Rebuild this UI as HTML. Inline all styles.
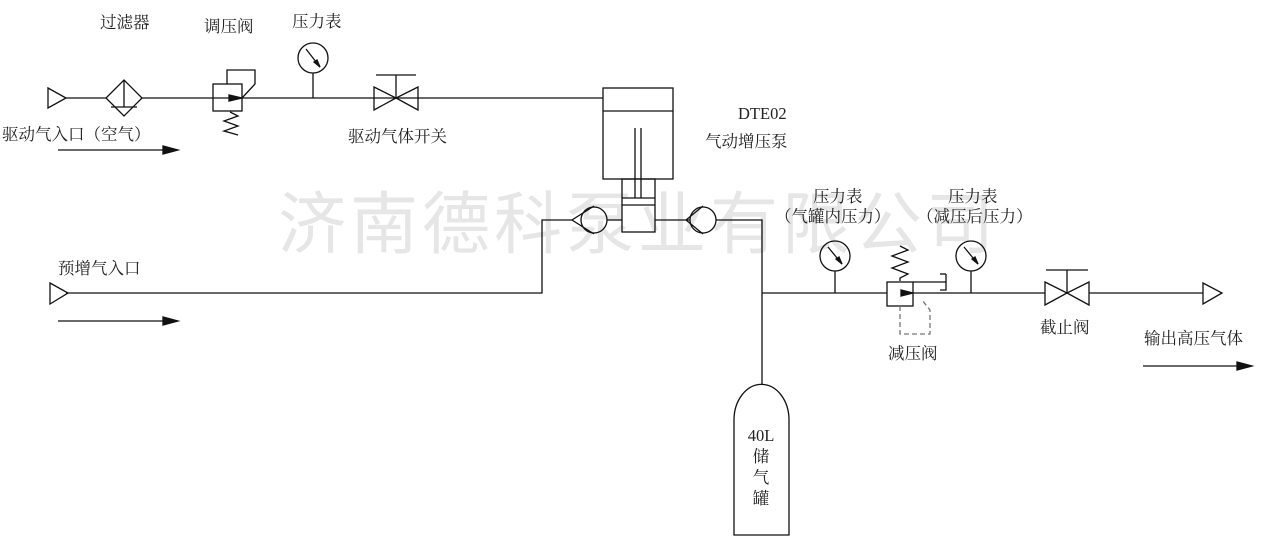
<!DOCTYPE html>
<html><head><meta charset="utf-8"><style>
body{margin:0;background:#fff;}
svg{display:block;font-family:"Liberation Serif","Noto Serif CJK SC",serif;}
text{font-size:16.5px;fill:#222;}
</style></head><body>
<svg width="1268" height="543" viewBox="0 0 1268 543" xmlns="http://www.w3.org/2000/svg">
<text x="638" y="248" text-anchor="middle" style="font-size:68px;fill:#e6e6e6;font-family:'Noto Sans CJK SC',sans-serif;letter-spacing:4px">济南德科泵业有限公司</text>
<g fill="none" stroke="#111" stroke-width="1.3">
<polygon points="48,88 66,98 48,108"/>
<line x1="66" y1="98" x2="106" y2="98"/>
<polygon points="124,80 142,98 124,116 106,98"/>
<line x1="124" y1="80" x2="124" y2="107"/><line x1="111" y1="107" x2="137" y2="107"/>
<line x1="142" y1="98" x2="603" y2="98"/>
<rect x="213" y="84" width="29" height="27"/>
<polyline points="227,84 227,70 255,70 255,84 242,98"/>
<polyline points="230,112 238,116 224,121 238,126 224,131 238,135"/>
<circle cx="313" cy="58" r="15"/><line x1="313" y1="73" x2="313" y2="98"/>
<line x1="306" y1="49" x2="320" y2="67"/>
<polygon points="374,87 396,98 374,110"/><polygon points="418,87 396,98 418,110"/>
<line x1="396" y1="98" x2="396" y2="75"/><line x1="376" y1="75" x2="416" y2="75"/>
<rect x="603" y="88" width="70" height="91"/><line x1="603" y1="111" x2="673" y2="111"/>
<line x1="635" y1="128" x2="635" y2="198"/><line x1="641" y1="128" x2="641" y2="198"/>
<rect x="622" y="179" width="33" height="53"/>
<line x1="622" y1="198" x2="655" y2="198"/><line x1="622" y1="205" x2="655" y2="205"/>
<line x1="622" y1="220" x2="607" y2="220"/>
<circle cx="594" cy="220" r="13"/><polyline points="594,206 572,220 594,234"/>
<polyline points="572,220 542,220 542,293 66,293"/>
<polygon points="50,283 68,293 50,304"/>
<line x1="655" y1="220" x2="690" y2="220"/>
<circle cx="703" cy="220" r="13"/><polyline points="703,206 686,220 703,234"/>
<polyline points="716,220 762,220 762,385"/>
<line x1="762" y1="293" x2="887" y2="293"/>
<circle cx="835" cy="256" r="15"/><line x1="835" y1="271" x2="835" y2="293"/>
<line x1="828" y1="247" x2="842" y2="264"/>
<rect x="887" y="282" width="26" height="24"/>
<polyline points="900,281 900,278 908,274 892,268 908,262 892,256 908,250 900,246"/>
<polyline points="913,282 946,282 946,290 940,290"/><line x1="946" y1="282" x2="946" y2="274"/><line x1="946" y1="274" x2="940" y2="274"/>
<line x1="913" y1="293" x2="1045" y2="293"/>
<circle cx="971" cy="256" r="15"/><line x1="971" y1="271" x2="971" y2="293"/>
<line x1="964" y1="247" x2="978" y2="264"/>
<polygon points="1045,282 1067,293 1045,305"/><polygon points="1089,282 1067,293 1089,305"/>
<line x1="1067" y1="293" x2="1067" y2="270"/><line x1="1046" y1="270" x2="1088" y2="270"/>
<line x1="1089" y1="293" x2="1203" y2="293"/>
<polygon points="1203,283 1222,293 1203,304"/>
<polyline points="900,306 900,334 930,334 930,310 922,300" stroke-dasharray="5,3" stroke="#777"/>
<path d="M734,535 L734,420 A27,35 0 0 1 789,420 L789,535 Z"/>
</g>
<g fill="#111" stroke="#111" stroke-width="1.3">
<line x1="58" y1="150" x2="165" y2="150"/><polygon points="178,150 163,146 163,154"/>
<line x1="58" y1="321" x2="165" y2="321"/><polygon points="178,321 163,317 163,325"/>
<line x1="1143" y1="366" x2="1238" y2="366"/><polygon points="1252,366 1237,362 1237,370"/>
<polygon points="242,98 229,95 229,101"/>
<polygon points="913,293 901,290 901,296"/>
<polygon points="320,67 314,62 317,60"/>
<polygon points="842,264 836,259 839,257"/>
<polygon points="978,264 972,259 975,257"/>
</g>
<text x="100" y="28">过滤器</text>
<text x="204" y="32">调压阀</text>
<text x="292" y="27">压力表</text>
<text x="2" y="140">驱动气入口（空气）</text>
<text x="348" y="142">驱动气体开关</text>
<text x="738" y="119">DTE02</text>
<text x="705" y="147">气动增压泵</text>
<text x="58" y="274">预增气入口</text>
<text x="813" y="202">压力表</text>
<text x="775" y="222">（气罐内压力）</text>
<text x="948" y="202">压力表</text>
<text x="917" y="222">（减压后压力）</text>
<text x="888" y="359">减压阀</text>
<text x="1040" y="333">截止阀</text>
<text x="1144" y="344">输出高压气体</text>
<text x="761" y="441" text-anchor="middle">40L</text>
<text x="761" y="462" text-anchor="middle">储</text>
<text x="761" y="483" text-anchor="middle">气</text>
<text x="761" y="504" text-anchor="middle">罐</text>
</svg>
</body></html>
